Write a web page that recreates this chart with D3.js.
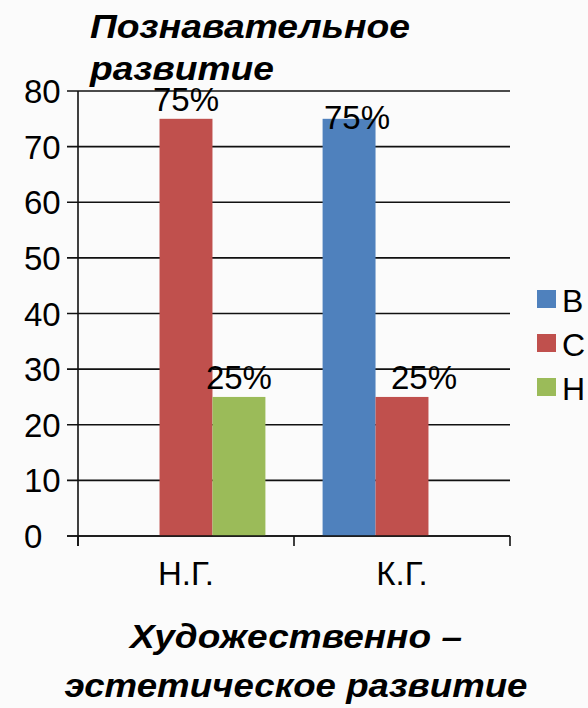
<!DOCTYPE html>
<html>
<head>
<meta charset="utf-8">
<script src="https://cdn.jsdelivr.net/npm/d3@7"></script>
<style>
  body { margin: 0; background: #fbfbfb; }
  .chart svg { display: block; font-family: "Liberation Sans", Arial, sans-serif; }
  .title-text { font-weight: bold; font-style: italic; font-size: 33px; fill: #000; }
  .tick-text { font-size: 33px; fill: #000; }
  .label-text { font-size: 33px; fill: #000; }
</style>
</head>
<body>
<div class="chart"></div>
<script>
// data
var categories = ["Н.Г.", "К.Г."];
var seriesNames = ["В", "С", "Н"];
var valuesB = [0, 75];
var valuesC = [75, 25];
var valuesH = [25, 0];
var yTicks = [0, 10, 20, 30, 40, 50, 60, 70, 80];

var colors = ["#4F81BD", "#C0504D", "#9BBB59"];

// build rows for the grouped bars
var rows = categories.map(function (c, i) {
  return { cat: c, vals: [valuesB[i], valuesC[i], valuesH[i]] };
});

// small hand nudges for the data labels (layout only)
var labelNudge = {
  "К.Г.|В": [8, 18],
  "К.Г.|С": [22, 0]
};

var svgWidth = 588, svgHeight = 708;

var svg = d3.select(".chart")
  .append("svg")
  .attr("width", svgWidth)
  .attr("height", svgHeight);

var plotLeft = 78, plotRight = 510, plotTop = 91, plotBottom = 536;

// scales
var x0 = d3.scaleBand()
  .domain(categories)
  .range([plotLeft, plotRight])
  .paddingInner(0)
  .paddingOuter(0);

var x1 = d3.scaleBand()
  .domain(seriesNames)
  .range([0, x0.bandwidth()])
  .paddingInner(0)
  .paddingOuter(0.54);

var yScale = d3.scaleLinear()
  .domain([0, 80])
  .range([plotBottom, plotTop]);

// gridlines + left ticks
svg.append("g")
  .selectAll("line")
  .data(yTicks)
  .enter()
  .append("line")
  .attr("x1", plotLeft - 11)
  .attr("x2", plotRight)
  .attr("y1", d => yScale(d))
  .attr("y2", d => yScale(d))
  .attr("stroke", "#111")
  .attr("stroke-width", 1.6);

// y tick labels (left aligned like the original)
svg.append("g")
  .selectAll("text")
  .data(yTicks)
  .enter()
  .append("text")
  .attr("class", "tick-text")
  .attr("x", 24)
  .attr("y", d => yScale(d) + 12)
  .text(d => d);

// bars
var groups = svg.append("g")
  .selectAll("g")
  .data(rows)
  .enter()
  .append("g")
  .attr("transform", d => `translate(${x0(d.cat)},0)`);

groups.selectAll("rect")
  .data(d => d.vals.map(function (v, j) { return { cat: d.cat, s: seriesNames[j], v: v, j: j }; }))
  .enter()
  .append("rect")
  .attr("x", d => x1(d.s))
  .attr("y", d => yScale(d.v))
  .attr("width", x1.bandwidth())
  .attr("height", d => yScale(0) - yScale(d.v))
  .attr("fill", d => colors[d.j]);

// data labels
groups.selectAll("text")
  .data(d => d.vals.map(function (v, j) { return { cat: d.cat, s: seriesNames[j], v: v }; }).filter(d => d.v > 0))
  .enter()
  .append("text")
  .attr("class", "label-text")
  .attr("text-anchor", "middle")
  .attr("x", function (d) {
    var n = labelNudge[d.cat + "|" + d.s] || [0, 0];
    return x1(d.s) + x1.bandwidth() / 2 + n[0];
  })
  .attr("y", function (d) {
    var n = labelNudge[d.cat + "|" + d.s] || [0, 0];
    return yScale(d.v) - 8 + n[1];
  })
  .text(d => d.v + "%");

// axes lines
svg.append("line")
  .attr("x1", plotLeft).attr("x2", plotLeft)
  .attr("y1", plotTop).attr("y2", plotBottom + 10)
  .attr("stroke", "#111").attr("stroke-width", 1.6);

svg.append("line")
  .attr("x1", plotLeft - 11).attr("x2", plotRight)
  .attr("y1", plotBottom).attr("y2", plotBottom)
  .attr("stroke", "#111").attr("stroke-width", 1.6);

// category ticks
var catTicks = [plotLeft].concat(categories.map(c => x0(c) + x0.bandwidth()));
svg.append("g")
  .selectAll("line")
  .data(catTicks)
  .enter()
  .append("line")
  .attr("x1", d => d).attr("x2", d => d)
  .attr("y1", plotBottom).attr("y2", plotBottom + 10)
  .attr("stroke", "#111").attr("stroke-width", 1.6);

// category labels
svg.append("g")
  .selectAll("text")
  .data(categories)
  .enter()
  .append("text")
  .attr("class", "tick-text")
  .attr("text-anchor", "middle")
  .attr("x", d => x0(d) + x0.bandwidth() / 2)
  .attr("y", 585)
  .text(d => d);

// legend
var legend = svg.append("g")
  .attr("transform", "translate(537, 290)")
  .selectAll("g")
  .data(seriesNames)
  .enter()
  .append("g")
  .attr("transform", (d, i) => `translate(0, ${i * 44})`);

legend.append("rect")
  .attr("width", 19)
  .attr("height", 18)
  .attr("fill", (d, i) => colors[i]);

legend.append("text")
  .attr("class", "tick-text")
  .attr("x", 25)
  .attr("y", 22)
  .style("font-size", "32px")
  .text(d => d);

// titles (the original font runs wider, so stretch to its measured widths)
svg.append("text")
  .attr("class", "title-text")
  .attr("x", 90)
  .attr("y", 38)
  .attr("textLength", 320)
  .attr("lengthAdjust", "spacingAndGlyphs")
  .text("Познавательное");

svg.append("text")
  .attr("class", "title-text")
  .attr("x", 90)
  .attr("y", 80)
  .attr("textLength", 184)
  .attr("lengthAdjust", "spacingAndGlyphs")
  .text("развитие");

svg.append("text")
  .attr("class", "title-text")
  .attr("text-anchor", "middle")
  .attr("x", 296)
  .attr("y", 648)
  .attr("textLength", 332)
  .attr("lengthAdjust", "spacingAndGlyphs")
  .text("Художественно –");

svg.append("text")
  .attr("class", "title-text")
  .attr("text-anchor", "middle")
  .attr("x", 296)
  .attr("y", 697)
  .attr("textLength", 463)
  .attr("lengthAdjust", "spacingAndGlyphs")
  .text("эстетическое развитие");
</script>
</body>
</html>
